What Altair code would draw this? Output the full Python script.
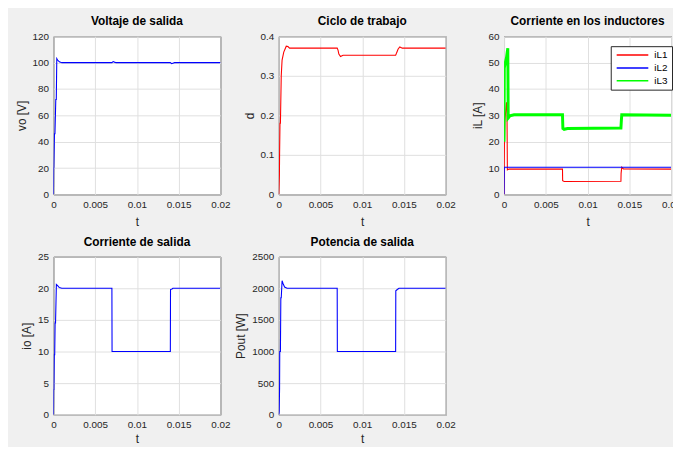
import altair as alt
import pandas as pd

FONT = "Liberation Sans"
X_TICKS = [0, 0.005, 0.01, 0.015, 0.02]

# Voltaje de salida
t_vo = [0, 0.00002, 0.00004, 0.00012, 0.00018, 0.00028, 0.00034, 0.0004, 0.0005, 0.0007, 0.001,
        0.007, 0.00715, 0.0073, 0.0075, 0.014, 0.01415, 0.0143, 0.0145, 0.02]
v_vo = [0, 20, 20, 46, 46, 72, 72, 103, 102, 100.6, 100,
        100, 100.8, 100.4, 100, 100, 99.2, 99.6, 100, 100]

# Ciclo de trabajo
t_d = [0, 0.00008, 0.0001, 0.00015, 0.0002, 0.0003, 0.0004, 0.0006, 0.0009, 0.0011, 0.0013,
       0.007, 0.0071, 0.0072, 0.0074, 0.0077, 0.014, 0.0141, 0.0143, 0.0145, 0.0148, 0.02]
v_d = [0, 0.05, 0.1, 0.18, 0.18, 0.3, 0.34, 0.36, 0.375, 0.374, 0.37,
       0.37, 0.365, 0.355, 0.349, 0.352, 0.352, 0.357, 0.368, 0.373, 0.37, 0.37]

# Corriente en los inductores
t_il1 = [0, 0.00005, 0.0001, 0.0003, 0.00035, 0.0004, 0.0006, 0.007, 0.00702, 0.0072,
         0.014, 0.01402, 0.0141, 0.0143, 0.02]
v_il1 = [0, 20, 28, 35, 33, 9.3, 9.6, 9.6, 5.2, 4.9,
         5, 8, 10.3, 9.7, 9.6]
t_il2 = [0, 0.00003, 0.02]
v_il2 = [0, 10.3, 10.3]
t_il3 = [0, 0.00003, 0.00015, 0.0003, 0.00045, 0.0005, 0.0007, 0.0012, 0.007, 0.00705, 0.0072,
         0.0076, 0.014, 0.01405, 0.0141, 0.02]
v_il3 = [20, 48, 50, 52, 55.5, 29, 29.8, 30.2, 30.2, 25, 24.7,
         25, 25.2, 28, 30.2, 30]

# Corriente de salida
t_io = [0, 0.00002, 0.00005, 0.0001, 0.00015, 0.0002, 0.00025, 0.00035, 0.0005, 0.0007, 0.001,
        0.007, 0.00702, 0.014, 0.01402, 0.0142, 0.0143, 0.02]
v_io = [0, 4, 4, 9.5, 9.5, 14.5, 14.5, 20.6, 20.4, 20.1, 20,
        20, 10, 10, 19.8, 19.9, 20, 20]

# Potencia de salida
t_p = [0, 0.00005, 0.0001, 0.00012, 0.0002, 0.00025, 0.0003, 0.0004, 0.0005, 0.0007, 0.001,
       0.007, 0.00702, 0.014, 0.01402, 0.0142, 0.0144, 0.02]
v_p = [0, 50, 420, 1000, 1000, 1850, 1850, 2120, 2080, 2020, 2000,
       2000, 1000, 1000, 1960, 1980, 2000, 2000]

SERIES = ["iL1", "iL2", "iL3"]
SERIES_COLORS = ["#ff0000", "#0000ff", "#00ff00"]
SERIES_WIDTHS = [1.1, 1.1, 3.0]

W, H = 169, 160


def xenc(title_pad):
    return alt.X("t:Q", scale=alt.Scale(domain=[0, 0.02], nice=False),
                 axis=alt.Axis(values=X_TICKS, format="~f", title="t", titlePadding=title_pad))


def yenc(title, ymax, ticks):
    return alt.Y("v:Q", scale=alt.Scale(domain=[0, ymax], nice=False),
                 axis=alt.Axis(values=ticks, format="~f", title=title))


def simple_panel(ts, vs, title, ytitle, ymax, ticks, color, title_pad):
    df = pd.DataFrame({"t": ts, "v": vs})
    return alt.Chart(df, title=title).mark_line(color=color, strokeWidth=1.1, clip=True).encode(
        x=xenc(title_pad), y=yenc(ytitle, ymax, ticks)
    ).properties(width=W, height=H)


p1 = simple_panel(t_vo, v_vo, "Voltaje de salida", "vo [V]", 120, [0, 20, 40, 60, 80, 100, 120], "#0000ff", 7)
p2 = simple_panel(t_d, v_d, "Ciclo de trabajo", "d", 0.4, [0, 0.1, 0.2, 0.3, 0.4], "#ff0000", 7)
p4 = simple_panel(t_io, v_io, "Corriente de salida", "io [A]", 25, [0, 5, 10, 15, 20, 25], "#0000ff", 4)
p5 = simple_panel(t_p, v_p, "Potencia de salida", "Pout [W]", 2500, [0, 500, 1000, 1500, 2000, 2500], "#0000ff", 4)

rows = []
for name, ts, vs, w in zip(SERIES, [t_il1, t_il2, t_il3], [v_il1, v_il2, v_il3], SERIES_WIDTHS):
    for t, v in zip(ts, vs):
        rows.append({"t": t, "v": v, "serie": name, "w": w})
df3 = pd.DataFrame(rows)

p3 = alt.Chart(df3, title="Corriente en los inductores").mark_line(clip=True).encode(
    x=xenc(7),
    y=yenc("iL [A]", 60, [0, 10, 20, 30, 40, 50, 60]),
    color=alt.Color("serie:N", scale=alt.Scale(domain=SERIES, range=SERIES_COLORS),
                    legend=alt.Legend(title=None, orient="none", legendX=564, legendY=10,
                                      symbolType="M-4,0H4", symbolSize=64, symbolStrokeWidth=1.5,
                                      symbolOffset=13, labelOffset=17,
                                      labelExpr="datum.label + '\u00a0\u00a0'",
                                      labelFont=FONT, labelFontSize=10, labelColor="#000000",
                                      strokeColor="#262626", fillColor="white", padding=4,
                                      rowPadding=3)),
    strokeWidth=alt.StrokeWidth("w:Q", scale=None, legend=None),
    order=alt.Order("t:Q"),
).properties(width=W, height=H)

chart = alt.ConcatChart(
    concat=[p1, p2, p3, p4, p5], columns=3,
    spacing={"row": 63, "column": 59}, bounds="flush", align="all",
).properties(
    background="#f0f0f0",
    autosize=alt.AutoSizeParams(type="none"),
    padding={"left": 46, "top": 26, "right": 627, "bottom": 413},
).configure_view(
    stroke="#262626", strokeWidth=1, fill="white"
).configure_axis(
    labelFont=FONT, labelFontSize=10, labelColor="#262626", labelPadding=5,
    labelFlush=False, labelOverlap=False,
    titleFont=FONT, titleFontSize=12, titleFontWeight="normal", titleColor="#262626",
    titlePadding=4, ticks=False, tickSize=0, domain=False,
    grid=True, gridColor="#dfdfdf", gridWidth=1,
).configure_title(
    font=FONT, fontSize=12, fontWeight="bold", color="#000000", anchor="middle",
    frame="group", offset=0, dy=1,
)

chart.save("out.html", embed_options={"renderer": "svg", "actions": False})
